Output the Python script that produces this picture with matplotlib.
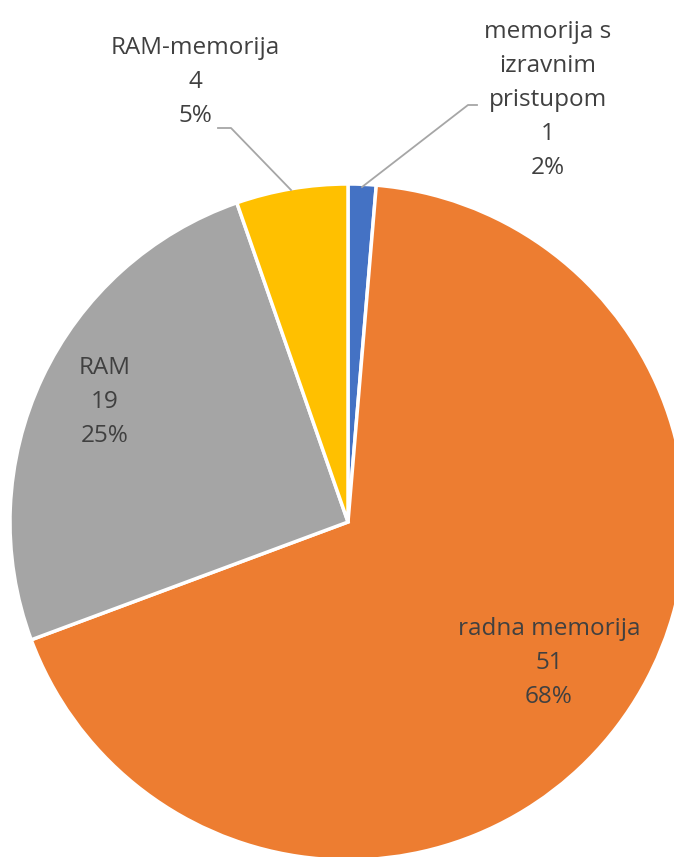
import matplotlib.pyplot as plt

labels = ['memorija s\nizravnim\npristupom', 'radna memorija', 'RAM', 'RAM-memorija']
values = [1, 51, 19, 4]
percents = ['2%', '68%', '25%', '5%']
colors = ['#4472C4', '#ED7D31', '#A5A5A5', '#FFC000']

plt.rcParams['font.family'] = ['Open Sans', 'DejaVu Sans']

fig = plt.figure(figsize=(6.74, 8.57), dpi=100)
ax = fig.add_axes([0, 0, 1, 1])

r = 338.0
cx, cy = 348.0, 522.0


def px(x, y):
    # pixel coords (top-left origin) -> data coords
    return (x - cx) / r, (cy - y) / r


ax.pie(values, colors=colors, startangle=90, counterclock=False, radius=1.0,
       wedgeprops=dict(edgecolor='white', linewidth=2.5))

ax.set_xlim(-cx / r, (674 - cx) / r)
ax.set_ylim(-(857 - cy) / r, cy / r)
ax.set_aspect('equal')
ax.axis('off')

text_pos = [(548, 100), (549, 663), (105, 402), (195, 82)]
for lab, val, pct, (tx, ty) in zip(labels, values, percents, text_pos):
    x, y = px(tx, ty)
    ax.text(x, y, f'{lab}\n{val}\n{pct}', ha='center', va='center',
            fontsize=17.5, color='#404040', linespacing=1.56)

# leader lines
for pts in ([(218, 128), (231, 128), (291, 190)], [(477, 105), (468, 105), (362, 187)]):
    xs, ys = zip(*[px(a, b) for a, b in pts])
    ax.plot(xs, ys, color='#A6A6A6', linewidth=1.3)

fig.savefig('out.png', dpi=100)
